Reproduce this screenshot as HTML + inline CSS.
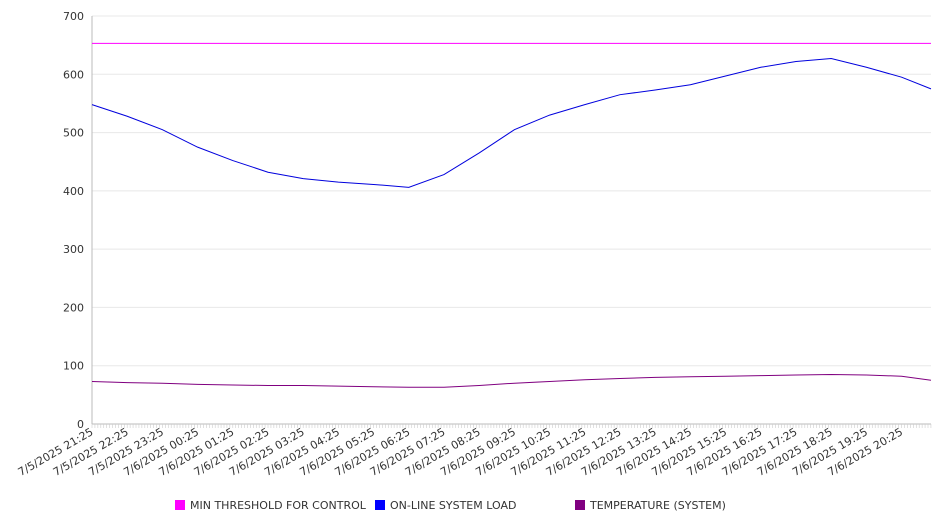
<!DOCTYPE html>
<html><head><meta charset="utf-8"><style>
body{margin:0;background:#fff;font-family:"DejaVu Sans","Liberation Sans",sans-serif;}
svg text{font-family:"DejaVu Sans","Liberation Sans",sans-serif;fill:#333;}
</style></head><body>
<svg id="chart" width="946" height="526" viewBox="0 0 946 526" xmlns="http://www.w3.org/2000/svg"></svg>
<script>
const hourLabels=["7/5/2025 21:25","7/5/2025 22:25","7/5/2025 23:25","7/6/2025 00:25","7/6/2025 01:25","7/6/2025 02:25","7/6/2025 03:25","7/6/2025 04:25","7/6/2025 05:25","7/6/2025 06:25","7/6/2025 07:25","7/6/2025 08:25","7/6/2025 09:25","7/6/2025 10:25","7/6/2025 11:25","7/6/2025 12:25","7/6/2025 13:25","7/6/2025 14:25","7/6/2025 15:25","7/6/2025 16:25","7/6/2025 17:25","7/6/2025 18:25","7/6/2025 19:25","7/6/2025 20:25"];
const yTicks=[0,100,200,300,400,500,600,700];
const threshold=[653,653,653,653,653,653,653,653,653,653,653,653,653,653,653,653,653,653,653,653,653,653,653,653,653];
const load=[548,528,505,475,452,432,421,415,411,406,428,465,505,530,548,565,573,582,597,612,622,627,612,595,575];
const temp=[73,71,70,68,67,66,66,65,64,63,63,66,70,73,76,78,80,81,82,83,84,85,84,82,75];
const svg=document.getElementById('chart');
const NS='http://www.w3.org/2000/svg';
const X0=92,X1=931,Y0=424,Y1=16,HOUR=35.2;
const xs=i=>i<24?X0+i*HOUR:X1;
const ys=v=>Y0-(v/700)*(Y0-Y1);
function mk(t,a){const e=document.createElementNS(NS,t);for(const k in a)e.setAttribute(k,a[k]);svg.appendChild(e);return e;}
yTicks.forEach(v=>{
  const g=mk('line',{x1:X0,x2:X1,y1:ys(v),y2:ys(v),stroke:v===0?'#bbb':'#e8e8e8','stroke-width':1});
  
  
  const t=mk('text',{x:X0-8,y:ys(v)+4,'text-anchor':'end','font-size':11});
  t.textContent=v;
  
  
});
const ax=mk('line',{x1:X0,x2:X0,y1:Y1,y2:Y0,stroke:'#bbb'});


for(let x=X0;x<=X1;x+=HOUR/12){
  const tk=mk('line',{x1:x,x2:x,y1:Y0,y2:Y0+4,stroke:'#ccc','stroke-width':0.6});
  
  
}
hourLabels.forEach((l,i)=>{
  const x=xs(i)+2,y=Y0+10;
  const t=mk('text',{x:x,y:y,'text-anchor':'end','font-size':11,transform:`rotate(-30 ${x} ${y})`});
  t.textContent=l;
  
  
});
function series(arr,color,name){
  const p=mk('polyline',{points:arr.map((v,i)=>xs(i)+','+ys(v)).join(' '),fill:'none',stroke:color,'stroke-width':1});
  
  
}
series(threshold,'#ff00ff','threshold-line');
series(load,'#0000dd','system-load-line');
series(temp,'#800080','temperature-line');
const legend=[["MIN THRESHOLD FOR CONTROL","#ff00ff",175],["ON-LINE SYSTEM LOAD","#0000ff",375],["TEMPERATURE (SYSTEM)","#800080",575]];
legend.forEach(([l,c,x])=>{
  const r=mk('rect',{x:x,y:500,width:10,height:10,fill:c});
  
  
  const t=mk('text',{x:x+15,y:509,'font-size':11});
  t.textContent=l;
  
  
});
</script>
</body></html>
